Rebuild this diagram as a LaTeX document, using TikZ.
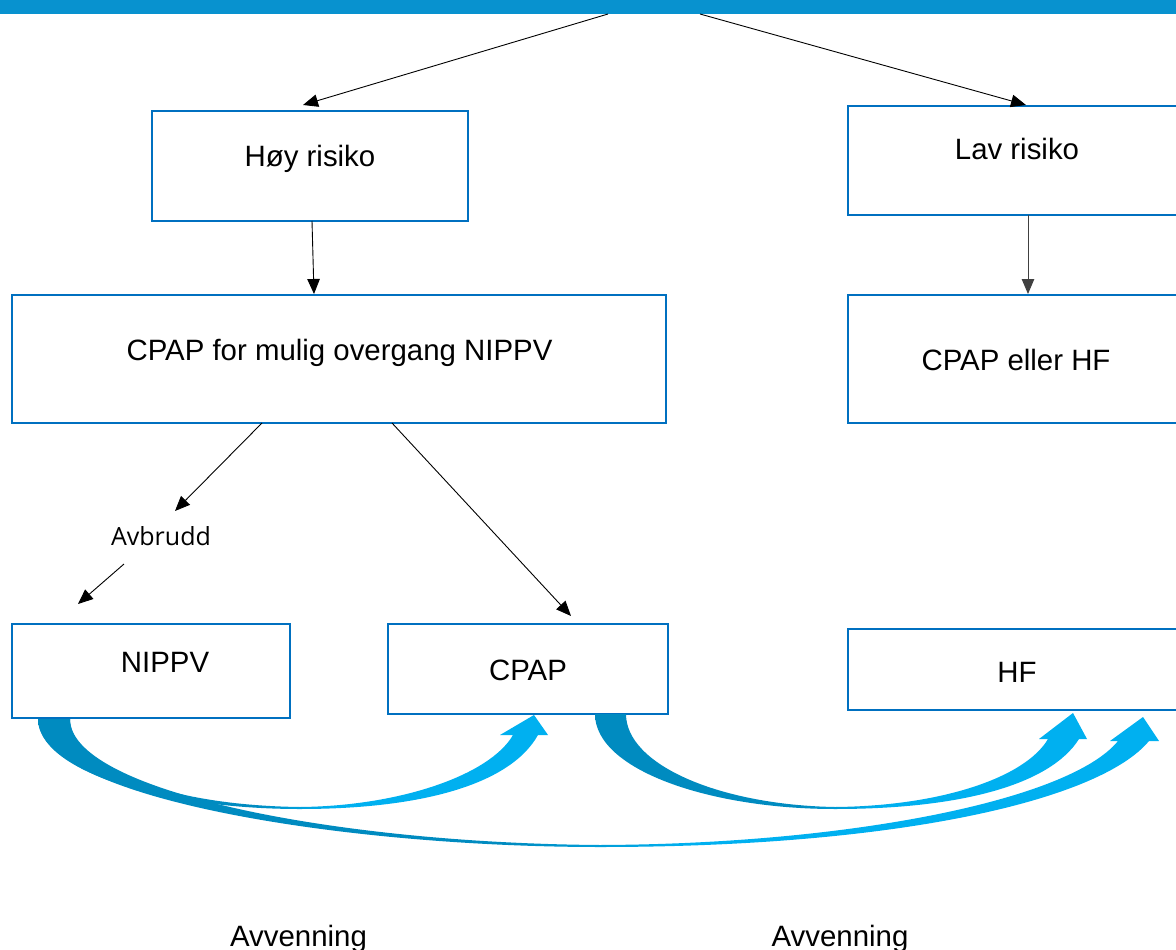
\documentclass[tikz,border=0pt]{standalone}
\usepackage{fontspec}
\setmainfont{Liberation Sans}
\newfontfamily\osans{Open Sans}
\usetikzlibrary{arrows.meta}
\definecolor{barblue}{HTML}{0892CF}
\definecolor{boxblue}{HTML}{0070C0}
\definecolor{dk}{HTML}{008BC0}
\definecolor{lt}{HTML}{00B0F0}
\pgfdeclarehorizontalshading{weanshade}{100bp}{color(0bp)=(dk); color(46bp)=(dk); color(54bp)=(lt); color(100bp)=(lt)}
\begin{document}
\begin{tikzpicture}[x=1pt,y=-1pt,
  box/.style={draw=boxblue,line width=2.2pt,rectangle,inner sep=0pt},
  lbl/.style={font=\fontsize{29.4}{34}\selectfont,inner sep=0pt,anchor=base},
  conn/.style={line width=0.9pt,-{Triangle[length=15pt,width=12.5pt]}},
  weanarrow/.style={shading=weanshade,draw=none}]
\useasboundingbox (0,0) rectangle (1176,950);
% top bar
\fill[barblue] (0,0) rectangle (1176,14);
\coordinate (barL) at (608,14);
\coordinate (barR) at (700,14);

% boxes
\node[box,minimum width=316pt,minimum height=110pt] (hoy) at (310,166) {};
\node[box,minimum width=338pt,minimum height=109pt] (lav) at (1017,160.5) {};
\node[box,minimum width=654pt,minimum height=128pt] (cpapfor) at (339,359) {};
\node[box,minimum width=338pt,minimum height=128pt] (cpaphf) at (1017,359) {};
\node[box,minimum width=278pt,minimum height=94pt] (nippv) at (151,671) {};
\node[box,minimum width=280pt,minimum height=90pt] (cpap) at (528,669) {};
\node[box,minimum width=338pt,minimum height=81pt] (hf) at (1017,669.5) {};

% texts
\node[lbl] (thoy) at (310,166) {Høy risiko};
\node[lbl] (tlav) at (1017,159) {Lav risiko};
\node[lbl] (tcpapfor) at (339.5,360) {CPAP for mulig overgang NIPPV};
\node[lbl] (tcpaphf) at (1016,370) {CPAP eller HF};
\node[lbl] (tnippv) at (165,672) {NIPPV};
\node[lbl] (tcpap) at (528,680) {CPAP};
\node[lbl] (thf) at (1017,682) {HF};
\node[inner sep=0pt,anchor=base,font=\osans\fontsize{25}{30}\selectfont] (avbrudd) at (161,545) {Avbrudd};
\node[lbl] (avv1) at (298.5,946) {Avvenning};
\node[lbl] (avv2) at (840,946) {Avvenning};

% connector end points
\coordinate (hoyin) at (303,105);
\coordinate (lavin) at (1026,105);
\coordinate (hoyout) at (312,221);
\coordinate (cpapforin) at (314,294);
\coordinate (lavout) at (1028,215);
\coordinate (cpaphfin) at (1028,294);
\coordinate (cpapforoutL) at (262,423);
\coordinate (avbin) at (175,511);
\coordinate (avbout) at (124,564);
\coordinate (nippvin) at (78,604);
\coordinate (cpapforoutR) at (392,423);
\coordinate (cpapin) at (571,616);

\draw[conn] (barL) -- (hoyin);
\draw[conn] (barR) -- (lavin);
\draw[conn] (hoyout) -- (cpapforin);
\draw[conn,draw=black!75] (lavout) -- (cpaphfin);
\draw[conn] (cpapforoutL) -- (avbin);
\draw[conn] (avbout) -- (nippvin);
\draw[conn] (cpapforoutR) -- (cpapin);

% curved weaning arrows
% NIPPV -> HF (long)
\path[weanarrow] (38,719) .. controls (40,800) and (350,847) .. (600,847)
  .. controls (900,847) and (1100,800) .. (1149,741)
  -- (1159,741) -- (1143,717) -- (1110,741) -- (1118,741)
  .. controls (1070,800) and (850,844) .. (600,845)
  .. controls (330,843) and (70,790) .. (70,719) -- cycle;
% NIPPV -> CPAP
\path[weanarrow] (38,719) .. controls (38,770) and (160,809) .. (300,809)
  .. controls (420,809) and (510,785) .. (538,735)
  -- (548,735) -- (534,715) -- (500,735) -- (513,735)
  .. controls (490,775) and (400,806) .. (300,807)
  .. controls (150,805) and (70,760) .. (70,719) -- cycle;
% CPAP -> HF
\path[weanarrow] (595,714) .. controls (595,770) and (710,809) .. (835,809)
  .. controls (960,809) and (1050,785) .. (1079,739)
  -- (1087,739) -- (1073,713) -- (1039,739) -- (1048,739)
  .. controls (1025,778) and (940,806) .. (835,807)
  .. controls (720,805) and (626,765) .. (626,714) -- cycle;
\end{tikzpicture}
\end{document}
